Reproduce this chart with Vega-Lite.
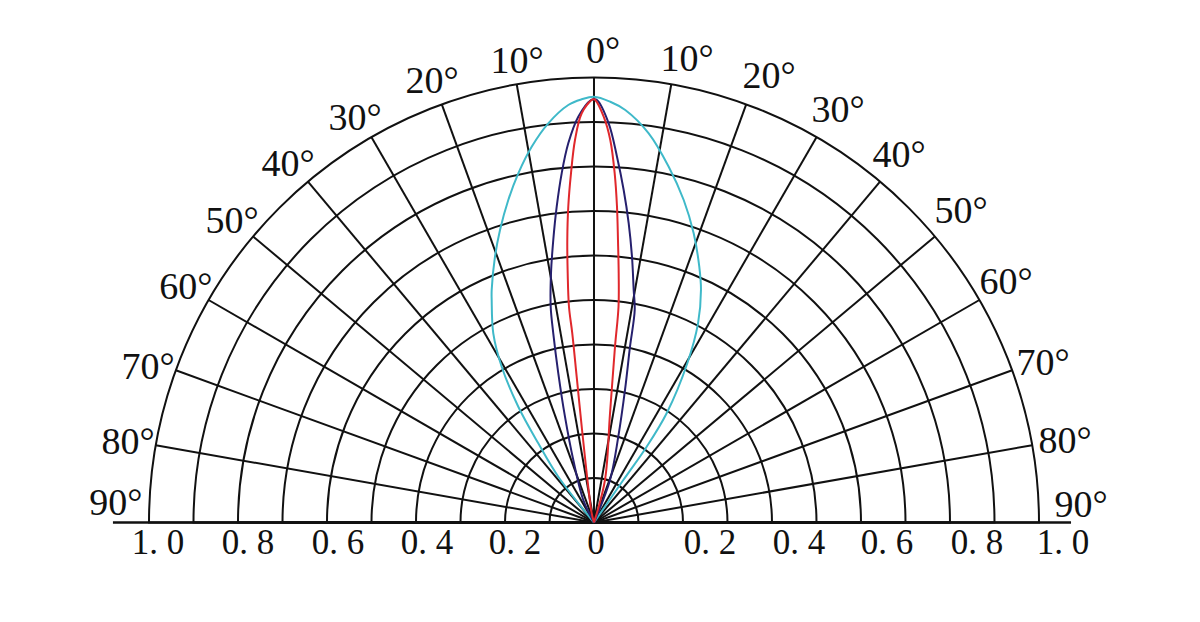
{
  "$schema": "https://vega.github.io/schema/vega-lite/v6.json",
  "width": 1200,
  "height": 622,
  "autosize": "none",
  "padding": 0,
  "background": "white",
  "config": {"view": {"stroke": null}},
  "datasets": {
    "rings": [
      {"r": 0.1, "a1": -90, "a2": 90, "o": 0}, {"r": 0.2, "a1": -90, "a2": 90, "o": 0}, {"r": 0.3, "a1": -90, "a2": 90, "o": 0},
      {"r": 0.4, "a1": -90, "a2": 90, "o": 0}, {"r": 0.5, "a1": -90, "a2": 90, "o": 0}, {"r": 0.6, "a1": -90, "a2": 90, "o": 0},
      {"r": 0.7, "a1": -90, "a2": 90, "o": 0}, {"r": 0.8, "a1": -90, "a2": 90, "o": 0}, {"r": 0.9, "a1": -90, "a2": 90, "o": 0},
      {"r": 1.0, "a1": -90, "a2": 90, "o": 0}
    ],
    "spokes": [
      {"deg": -80, "o": 0, "sx": -0.98481, "sy": 0.17365},
      {"deg": -70, "o": 0, "sx": -0.93969, "sy": 0.34202},
      {"deg": -60, "o": 0, "sx": -0.86603, "sy": 0.5},
      {"deg": -50, "o": 0, "sx": -0.76604, "sy": 0.64279},
      {"deg": -40, "o": 0, "sx": -0.64279, "sy": 0.76604},
      {"deg": -30, "o": 0, "sx": -0.5, "sy": 0.86603},
      {"deg": -20, "o": 0, "sx": -0.34202, "sy": 0.93969},
      {"deg": -10, "o": 0, "sx": -0.17365, "sy": 0.98481},
      {"deg": 0, "o": 0, "sx": 0, "sy": 1},
      {"deg": 10, "o": 0, "sx": 0.17365, "sy": 0.98481},
      {"deg": 20, "o": 0, "sx": 0.34202, "sy": 0.93969},
      {"deg": 30, "o": 0, "sx": 0.5, "sy": 0.86603},
      {"deg": 40, "o": 0, "sx": 0.64279, "sy": 0.76604},
      {"deg": 50, "o": 0, "sx": 0.76604, "sy": 0.64279},
      {"deg": 60, "o": 0, "sx": 0.86603, "sy": 0.5},
      {"deg": 70, "o": 0, "sx": 0.93969, "sy": 0.34202},
      {"deg": 80, "o": 0, "sx": 0.98481, "sy": 0.17365}
    ],
    "axisline": [{"xa": -1.081, "xb": 1.072, "y": 0}],
    "curves": [
      {"s": "cyan", "i": 0, "x": 0, "y": 0},
      {"s": "cyan", "i": 1, "x": -0.0802, "y": 0.1029},
      {"s": "cyan", "i": 2, "x": -0.1252, "y": 0.178},
      {"s": "cyan", "i": 3, "x": -0.1701, "y": 0.2602},
      {"s": "cyan", "i": 4, "x": -0.2074, "y": 0.3501},
      {"s": "cyan", "i": 5, "x": -0.2263, "y": 0.4252},
      {"s": "cyan", "i": 6, "x": -0.2299, "y": 0.5},
      {"s": "cyan", "i": 7, "x": -0.2299, "y": 0.5225},
      {"s": "cyan", "i": 8, "x": -0.2225, "y": 0.5973},
      {"s": "cyan", "i": 9, "x": -0.2112, "y": 0.6573},
      {"s": "cyan", "i": 10, "x": -0.1926, "y": 0.7247},
      {"s": "cyan", "i": 11, "x": -0.1701, "y": 0.7847},
      {"s": "cyan", "i": 12, "x": -0.14, "y": 0.8445},
      {"s": "cyan", "i": 13, "x": -0.1027, "y": 0.8971},
      {"s": "cyan", "i": 14, "x": -0.0578, "y": 0.9382},
      {"s": "cyan", "i": 15, "x": -0.0276, "y": 0.951},
      {"s": "cyan", "i": 16, "x": 0, "y": 0.9569},
      {"s": "cyan", "i": 17, "x": 0.0366, "y": 0.9456},
      {"s": "cyan", "i": 18, "x": 0.0703, "y": 0.927},
      {"s": "cyan", "i": 19, "x": 0.1229, "y": 0.8746},
      {"s": "cyan", "i": 20, "x": 0.1679, "y": 0.7996},
      {"s": "cyan", "i": 21, "x": 0.2016, "y": 0.7247},
      {"s": "cyan", "i": 22, "x": 0.224, "y": 0.6499},
      {"s": "cyan", "i": 23, "x": 0.2366, "y": 0.5748},
      {"s": "cyan", "i": 24, "x": 0.2404, "y": 0.5225},
      {"s": "cyan", "i": 25, "x": 0.2338, "y": 0.4476},
      {"s": "cyan", "i": 26, "x": 0.2097, "y": 0.3578},
      {"s": "cyan", "i": 27, "x": 0.1633, "y": 0.2454},
      {"s": "cyan", "i": 28, "x": 0.1184, "y": 0.1703},
      {"s": "cyan", "i": 29, "x": 0.0659, "y": 0.0955},
      {"s": "cyan", "i": 30, "x": 0, "y": 0},
      {"s": "navy", "i": 0, "x": 0, "y": 0},
      {"s": "navy", "i": 1, "x": -0.024, "y": 0.0506},
      {"s": "navy", "i": 2, "x": -0.0465, "y": 0.1404},
      {"s": "navy", "i": 3, "x": -0.0652, "y": 0.2378},
      {"s": "navy", "i": 4, "x": -0.0802, "y": 0.3353},
      {"s": "navy", "i": 5, "x": -0.0915, "y": 0.4252},
      {"s": "navy", "i": 6, "x": -0.0973, "y": 0.4849},
      {"s": "navy", "i": 7, "x": -0.0966, "y": 0.56},
      {"s": "navy", "i": 8, "x": -0.0915, "y": 0.6348},
      {"s": "navy", "i": 9, "x": -0.0838, "y": 0.7097},
      {"s": "navy", "i": 10, "x": -0.0726, "y": 0.7847},
      {"s": "navy", "i": 11, "x": -0.0578, "y": 0.8521},
      {"s": "navy", "i": 12, "x": -0.0353, "y": 0.9119},
      {"s": "navy", "i": 13, "x": -0.0067, "y": 0.9494},
      {"s": "navy", "i": 14, "x": 0, "y": 0.951},
      {"s": "navy", "i": 15, "x": 0.0067, "y": 0.9494},
      {"s": "navy", "i": 16, "x": 0.033, "y": 0.8971},
      {"s": "navy", "i": 17, "x": 0.0517, "y": 0.822},
      {"s": "navy", "i": 18, "x": 0.0667, "y": 0.7472},
      {"s": "navy", "i": 19, "x": 0.078, "y": 0.6724},
      {"s": "navy", "i": 20, "x": 0.0854, "y": 0.5973},
      {"s": "navy", "i": 21, "x": 0.0892, "y": 0.5225},
      {"s": "navy", "i": 22, "x": 0.0915, "y": 0.4775},
      {"s": "navy", "i": 23, "x": 0.0809, "y": 0.3951},
      {"s": "navy", "i": 24, "x": 0.0697, "y": 0.2978},
      {"s": "navy", "i": 25, "x": 0.0546, "y": 0.1928},
      {"s": "navy", "i": 26, "x": 0.036, "y": 0.0955},
      {"s": "navy", "i": 27, "x": 0, "y": 0},
      {"s": "red", "i": 0, "x": 0, "y": 0},
      {"s": "red", "i": 1, "x": -0.0052, "y": 0.0207},
      {"s": "red", "i": 2, "x": -0.0164, "y": 0.1106},
      {"s": "red", "i": 3, "x": -0.0276, "y": 0.2153},
      {"s": "red", "i": 4, "x": -0.0389, "y": 0.3276},
      {"s": "red", "i": 5, "x": -0.0488, "y": 0.4252},
      {"s": "red", "i": 6, "x": -0.0562, "y": 0.4849},
      {"s": "red", "i": 7, "x": -0.0591, "y": 0.56},
      {"s": "red", "i": 8, "x": -0.06, "y": 0.6348},
      {"s": "red", "i": 9, "x": -0.0578, "y": 0.7097},
      {"s": "red", "i": 10, "x": -0.0517, "y": 0.7847},
      {"s": "red", "i": 11, "x": -0.0427, "y": 0.8596},
      {"s": "red", "i": 12, "x": -0.0276, "y": 0.9196},
      {"s": "red", "i": 13, "x": -0.0052, "y": 0.9494},
      {"s": "red", "i": 14, "x": 0, "y": 0.951},
      {"s": "red", "i": 15, "x": 0.0029, "y": 0.9494},
      {"s": "red", "i": 16, "x": 0.0218, "y": 0.9119},
      {"s": "red", "i": 17, "x": 0.0366, "y": 0.8596},
      {"s": "red", "i": 18, "x": 0.0465, "y": 0.7847},
      {"s": "red", "i": 19, "x": 0.0517, "y": 0.7097},
      {"s": "red", "i": 20, "x": 0.0539, "y": 0.6348},
      {"s": "red", "i": 21, "x": 0.0555, "y": 0.56},
      {"s": "red", "i": 22, "x": 0.0551, "y": 0.4849},
      {"s": "red", "i": 23, "x": 0.0472, "y": 0.3951},
      {"s": "red", "i": 24, "x": 0.036, "y": 0.2454},
      {"s": "red", "i": 25, "x": 0.0247, "y": 0.0955},
      {"s": "red", "i": 26, "x": 0, "y": 0}
    ],
    "angleLabels": [
      {"t": "0°", "x": 0.0202, "y": 1.0573},
      {"t": "10°", "x": -0.173, "y": 1.0348},
      {"t": "10°", "x": 0.209, "y": 1.0393},
      {"t": "20°", "x": -0.364, "y": 0.9899},
      {"t": "20°", "x": 0.3933, "y": 1.0011},
      {"t": "30°", "x": -0.5371, "y": 0.9067},
      {"t": "30°", "x": 0.5483, "y": 0.9247},
      {"t": "40°", "x": -0.6876, "y": 0.8034},
      {"t": "40°", "x": 0.6854, "y": 0.8236},
      {"t": "50°", "x": -0.8135, "y": 0.6753},
      {"t": "50°", "x": 0.8247, "y": 0.6978},
      {"t": "60°", "x": -0.9169, "y": 0.527},
      {"t": "60°", "x": 0.9258, "y": 0.5382},
      {"t": "70°", "x": -1.0022, "y": 0.3472},
      {"t": "70°", "x": 1.009, "y": 0.3562},
      {"t": "80°", "x": -1.0472, "y": 0.1786},
      {"t": "80°", "x": 1.0584, "y": 0.1809},
      {"t": "90°", "x": -1.0742, "y": 0.0416},
      {"t": "90°", "x": 1.0944, "y": 0.0371}
    ],
    "radLabels": [
      {"t": "1. 0", "x": -0.9798, "y": -0.0461},
      {"t": "0. 8", "x": -0.7775, "y": -0.0461},
      {"t": "0. 6", "x": -0.5753, "y": -0.0461},
      {"t": "0. 4", "x": -0.3753, "y": -0.0461},
      {"t": "0. 2", "x": -0.1775, "y": -0.0461},
      {"t": "0", "x": 0.0045, "y": -0.0461},
      {"t": "0. 2", "x": 0.2607, "y": -0.0461},
      {"t": "0. 4", "x": 0.4607, "y": -0.0461},
      {"t": "0. 6", "x": 0.6584, "y": -0.0461},
      {"t": "0. 8", "x": 0.8607, "y": -0.0461},
      {"t": "1. 0", "x": 1.0539, "y": -0.0461}
    ]
  },
  "layer": [
    {
      "data": {"name": "rings"},
      "mark": {"type": "arc", "fillOpacity": 0, "fill": "white", "stroke": "#111111", "strokeWidth": 2},
      "encoding": {
        "x": {"field": "o", "type": "quantitative", "scale": {"domain": [-1.3348, 1.3618], "nice": false, "zero": false}, "axis": null},
        "y": {"field": "o", "type": "quantitative", "scale": {"domain": [-0.2236, 1.1742], "nice": false, "zero": false}, "axis": null},
        "theta": {"field": "a1", "type": "quantitative", "scale": {"type": "linear", "domain": [-180, 180], "range": [-3.14159265, 3.14159265], "zero": false}},
        "theta2": {"field": "a2"},
        "radius": {"field": "r", "type": "quantitative", "scale": {"type": "linear", "domain": [0, 1], "range": [0, 445], "zero": true}}
      }
    },
    {
      "data": {"name": "spokes"},
      "mark": {"type": "rule", "color": "#111111", "strokeWidth": 2},
      "encoding": {
        "x": {"field": "o", "type": "quantitative", "scale": {"domain": [-1.3348, 1.3618], "nice": false, "zero": false}, "axis": null},
        "y": {"field": "o", "type": "quantitative", "scale": {"domain": [-0.2236, 1.1742], "nice": false, "zero": false}, "axis": null},
        "x2": {"field": "sx"},
        "y2": {"field": "sy"}
      }
    },
    {
      "data": {"name": "axisline"},
      "mark": {"type": "rule", "color": "#111111", "strokeWidth": 2.5},
      "encoding": {
        "x": {"field": "xa", "type": "quantitative", "scale": {"domain": [-1.3348, 1.3618], "nice": false, "zero": false}, "axis": null},
        "x2": {"field": "xb"},
        "y": {"field": "y", "type": "quantitative", "scale": {"domain": [-0.2236, 1.1742], "nice": false, "zero": false}, "axis": null}
      }
    },
    {
      "data": {"name": "curves"},
      "mark": {"type": "line", "strokeWidth": 2, "interpolate": "catmull-rom"},
      "encoding": {
        "x": {"field": "x", "type": "quantitative", "scale": {"domain": [-1.3348, 1.3618], "nice": false, "zero": false}, "axis": null},
        "y": {"field": "y", "type": "quantitative", "scale": {"domain": [-0.2236, 1.1742], "nice": false, "zero": false}, "axis": null},
        "order": {"field": "i", "type": "quantitative"},
        "color": {"field": "s", "type": "nominal", "scale": {"domain": ["cyan", "navy", "red"], "range": ["#3fb9c9", "#26206e", "#e0282c"]}, "legend": null}
      }
    },
    {
      "data": {"name": "angleLabels"},
      "mark": {"type": "text", "font": "Liberation Serif", "fontSize": 38, "color": "#111111", "align": "center", "baseline": "middle"},
      "encoding": {
        "x": {"field": "x", "type": "quantitative", "scale": {"domain": [-1.3348, 1.3618], "nice": false, "zero": false}, "axis": null},
        "y": {"field": "y", "type": "quantitative", "scale": {"domain": [-0.2236, 1.1742], "nice": false, "zero": false}, "axis": null},
        "text": {"field": "t", "type": "nominal"}
      }
    },
    {
      "data": {"name": "radLabels"},
      "mark": {"type": "text", "font": "Liberation Serif", "fontSize": 35, "color": "#111111", "align": "center", "baseline": "middle"},
      "encoding": {
        "x": {"field": "x", "type": "quantitative", "scale": {"domain": [-1.3348, 1.3618], "nice": false, "zero": false}, "axis": null},
        "y": {"field": "y", "type": "quantitative", "scale": {"domain": [-0.2236, 1.1742], "nice": false, "zero": false}, "axis": null},
        "text": {"field": "t", "type": "nominal"}
      }
    }
  ]
}
